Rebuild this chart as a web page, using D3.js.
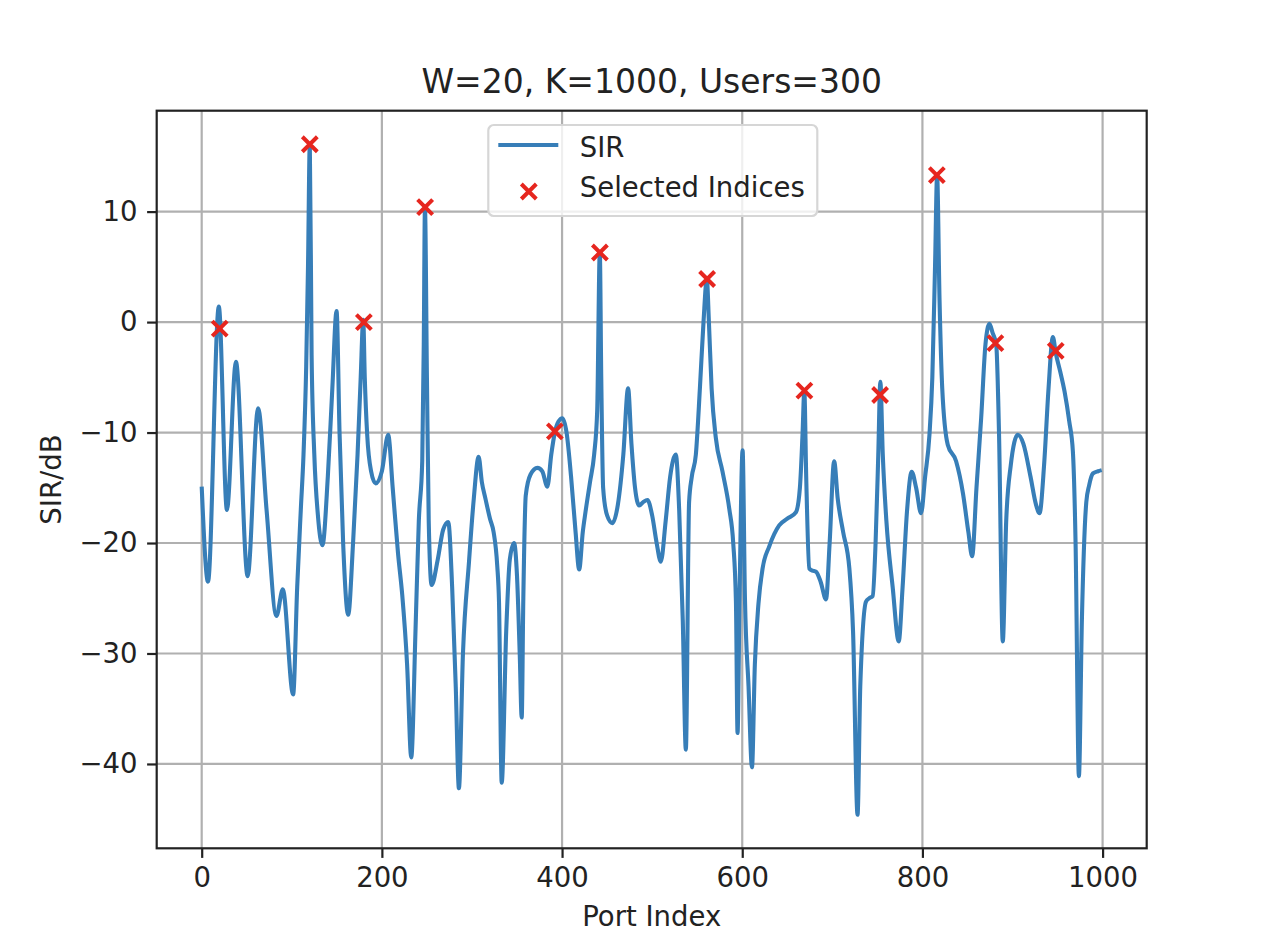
<!DOCTYPE html>
<html>
<head>
<meta charset="utf-8">
<script src="https://cdn.jsdelivr.net/npm/d3@7"></script>
<style>
  body { margin: 0; background: #fff; }
  text { font-family: "DejaVu Sans", sans-serif; fill: #222; }
</style>
</head>
<body>
<div class="canvas"></div>
<script>
// SIR curve (port index, dB)
const portIndex = [
  0, 7, 19, 28, 38, 51, 62.6, 72, 83, 90, 101.5, 106, 110, 113, 116, 118, 120, 122, 125, 129,
  134, 140, 145, 149.7, 153, 157, 162.6, 168, 173, 176.5, 179.3, 181, 183.7, 188, 193, 200, 207, 212, 218, 222.6,
  228, 232.6, 237.4, 241, 244.8, 246.5, 247.8, 250, 252, 255.2, 262, 268, 273.7, 278, 282, 285.5, 290, 296.7, 302, 307.4,
  311, 315, 320, 324, 328, 330, 333, 338, 342, 346.7, 350, 353, 355.2, 357, 359.7, 365, 372.6, 378, 383.7, 388,
  392.2, 396, 400.4, 405, 410, 415, 419, 423, 426, 431, 435.6, 439, 441.9, 443.5, 445.6, 450, 455.9, 462, 468, 473.3,
  477, 481, 485.6, 490, 494.8, 500, 505, 509.6, 515, 520, 526.3, 530, 534, 537.4, 541, 544, 548.5, 553, 557, 560.7,
  563, 566, 570.7, 578, 585.6, 590, 593, 594.8, 597, 600.4, 603, 607, 610.8, 614, 618, 622.6, 630, 641, 650, 659.7,
  664, 667, 668.9, 671, 674.4, 678, 681.9, 687, 693, 697, 702, 706, 712, 718.9, 723, 728, 731, 737.4, 741, 744.8,
  748, 751, 753.3, 756, 760, 767, 773.7, 778, 783, 788.1, 793, 798.5, 803, 807.8, 811, 814, 816.3, 819, 822, 828.1,
  837.4, 845, 851, 855.2, 860, 865.2, 870, 874.4, 878, 881.9, 885, 889.2, 893, 898, 905.9, 912, 920, 926, 930, 935,
  940, 944.8, 948, 953, 957.8, 963, 967, 970, 973.7, 977, 981.9, 985, 989.3, 995, 999
];
const sirDb = [
  -14.9, -23.5, 1.4, -17, -3.6, -23, -7.8, -17, -26.6, -24.2, -33.7, -24, -17, -12, -4, 5, 16.1, -3, -12, -17.5,
  -20.2, -14, -6, 1.0, -10, -20, -26.5, -20, -12, -5, 0.2, -5, -10.2, -13.5, -14.6, -13.5, -10.2, -15, -21, -24.7,
  -31, -39.4, -27.7, -18, -12.6, -2, 10.4, -5, -18, -23.8, -21.5, -18.8, -18.1, -24, -33, -42.2, -30, -21.7, -16, -12.2,
  -14.5, -16, -17.8, -19, -22, -25.3, -41.7, -28, -21.5, -20, -23, -30, -35.8, -25, -15.7, -13.8, -13.2, -13.5, -14.9, -12,
  -9.9, -9, -8.7, -10, -14, -19, -22.4, -19, -17.2, -14.5, -12, -8, 6.3, -5, -15, -17.5, -18.2, -16.5, -12, -6,
  -11, -15, -16.6, -16.3, -16.1, -17.5, -20, -21.7, -18, -14, -12, -17, -27, -38.7, -16.3, -14, -12, -6, 0, 3.9,
  0, -6, -10.5, -13.5, -16.9, -20, -25.3, -37.2, -25, -11.6, -25, -33, -40.3, -31, -25.5, -22.3, -20.3, -18.4, -17.8, -17.2,
  -15, -10, -6.2, -14, -22.3, -22.5, -22.6, -23.5, -25.1, -20, -12.6, -16, -19, -22.3, -28, -44.6, -33, -25.3, -25, -24.8,
  -20, -12, -5.4, -12, -18, -24, -28.9, -24, -17, -13.55, -15, -17.3, -14, -10.2, -5, 5, 13.3, 2, -6, -11.1,
  -12.6, -15.5, -19, -21.2, -15, -8.7, -2, -0.15, -1, -2, -10, -28.9, -18, -13, -10.2, -11, -14, -16.5, -17.3, -13,
  -6, -1.35, -2.8, -4.5, -6.3, -9, -11.7, -20, -41.1, -27, -16.3, -14.8, -13.7, -13.5, -13.4
];

// selected indices (red crosses)
const selectedIdx = [20, 120, 180, 248, 392, 442, 561, 669, 753, 816, 881, 948];
const selectedSir = [-0.6, 16.1, 0, 10.4, -9.9, 6.3, 3.9, -6.2, -6.6, 13.3, -1.9, -2.6];

const xTicks = [0, 200, 400, 600, 800, 1000];
const yTicks = [-40, -30, -20, -10, 0, 10];

const titleText = 'W=20, K=1000, Users=300';
const xLabel = 'Port Index';
const yLabel = 'SIR/dB';
const legendLabels = ['SIR', 'Selected Indices'];

const lineColour = '#377eb8';
const markColour = '#e6261f';

const width = 1268;
const height = 950;
const margin = { top: 110.7, right: 121.3, bottom: 101.7, left: 156.7 };
const graphWidth = width - margin.left - margin.right;
const graphHeight = height - margin.top - margin.bottom;
const fontSize = 27.5;
const tickLen = 9.6;

const svg = d3.select('.canvas')
  .append('svg')
  .attr('width', width)
  .attr('height', height);

const graph = svg.append('g')
  .attr('transform', `translate(${margin.left}, ${margin.top})`);

// 5% padding like matplotlib autoscale
const pad = (ext) => {
  const d = ext[1] - ext[0];
  return [ext[0] - d * 0.05, ext[1] + d * 0.05];
};
const allY = sirDb.concat(selectedSir);
const x = d3.scaleLinear().domain(pad(d3.extent(portIndex))).range([0, graphWidth]);
const y = d3.scaleLinear().domain(pad(d3.extent(allY))).range([graphHeight, 0]);

svg.append('defs').append('clipPath')
  .attr('id', 'plot-clip')
  .append('rect')
  .attr('width', graphWidth)
  .attr('height', graphHeight);

// grid
const grid = graph.append('g').attr('class', 'grid');
grid.selectAll('.gx')
  .data(xTicks)
  .enter()
  .append('line')
  .attr('x1', d => x(d)).attr('x2', d => x(d))
  .attr('y1', 0).attr('y2', graphHeight)
  .attr('stroke', '#b0b0b0')
  .attr('stroke-width', 2.2);
grid.selectAll('.gy')
  .data(yTicks)
  .enter()
  .append('line')
  .attr('x1', 0).attr('x2', graphWidth)
  .attr('y1', d => y(d)).attr('y2', d => y(d))
  .attr('stroke', '#b0b0b0')
  .attr('stroke-width', 2.2);

// SIR line
const points = portIndex.map((p, i) => ({ port: p, sir: sirDb[i] }));
const line = d3.line()
  .x(d => x(d.port))
  .y(d => y(d.sir))
  .curve(d3.curveMonotoneX);

graph.append('path')
  .datum(points)
  .attr('clip-path', 'url(#plot-clip)')
  .attr('fill', 'none')
  .attr('stroke', lineColour)
  .attr('stroke-width', 4.1)
  .attr('stroke-linejoin', 'round')
  .attr('d', line);

// crosses
const crossPath = (r) => `M${-r},${-r}L${r},${r}M${-r},${r}L${r},${-r}`;
const picks = selectedIdx.map((p, i) => ({ port: p, sir: selectedSir[i] }));
graph.selectAll('.cross')
  .data(picks)
  .enter()
  .append('path')
  .attr('class', 'cross')
  .attr('transform', d => `translate(${x(d.port)}, ${y(d.sir)})`)
  .attr('d', crossPath(7.5))
  .attr('stroke', markColour)
  .attr('stroke-width', 4)
  .attr('fill', 'none');

// axes
const xAxis = d3.axisBottom(x)
  .tickValues(xTicks)
  .tickFormat(d3.format('d'))
  .tickSize(tickLen)
  .tickPadding(10);
const yAxis = d3.axisLeft(y)
  .tickValues(yTicks)
  .tickSize(tickLen)
  .tickPadding(9.6);

const xAxisGroup = graph.append('g')
  .attr('transform', `translate(0, ${graphHeight})`)
  .call(xAxis);
const yAxisGroup = graph.append('g')
  .call(yAxis);

[xAxisGroup, yAxisGroup].forEach(g => {
  g.select('.domain').remove();
  g.selectAll('line').attr('stroke', '#222').attr('stroke-width', 2.2);
  g.selectAll('text')
    .attr('font-family', '"DejaVu Sans", sans-serif')
    .attr('font-size', fontSize)
    .attr('fill', '#222');
});

// spines
graph.append('rect')
  .attr('width', graphWidth)
  .attr('height', graphHeight)
  .attr('fill', 'none')
  .attr('stroke', '#222')
  .attr('stroke-width', 2.2);

// legend
const legend = graph.append('g')
  .attr('transform', `translate(${488.3 - margin.left}, ${125 - margin.top})`);
legend.append('rect')
  .attr('width', 329)
  .attr('height', 91)
  .attr('rx', 5.5)
  .attr('fill', 'rgba(255,255,255,0.8)')
  .attr('stroke', '#d6d6d6')
  .attr('stroke-width', 2.2);
legend.append('line')
  .attr('x1', 10).attr('x2', 70)
  .attr('y1', 20).attr('y2', 20)
  .attr('stroke', lineColour)
  .attr('stroke-width', 4.1);
legend.append('path')
  .attr('transform', 'translate(40.5, 66.5)')
  .attr('d', crossPath(7.5))
  .attr('stroke', markColour)
  .attr('stroke-width', 4)
  .attr('fill', 'none');
legend.selectAll('.legend-text')
  .data(legendLabels)
  .enter()
  .append('text')
  .attr('x', 91.5)
  .attr('y', (d, i) => 31.5 + i * 40.5)
  .attr('font-size', fontSize)
  .text(d => d);

// title and labels
svg.append('text')
  .attr('x', margin.left + graphWidth / 2)
  .attr('y', 92.5)
  .attr('text-anchor', 'middle')
  .attr('font-size', 33)
  .text(titleText);

svg.append('text')
  .attr('x', margin.left + graphWidth / 2)
  .attr('y', 926)
  .attr('text-anchor', 'middle')
  .attr('font-size', fontSize)
  .text(xLabel);

svg.append('text')
  .attr('transform', `translate(61, ${margin.top + graphHeight / 2}) rotate(-90)`)
  .attr('text-anchor', 'middle')
  .attr('font-size', fontSize)
  .text(yLabel);
</script>
</body>
</html>
